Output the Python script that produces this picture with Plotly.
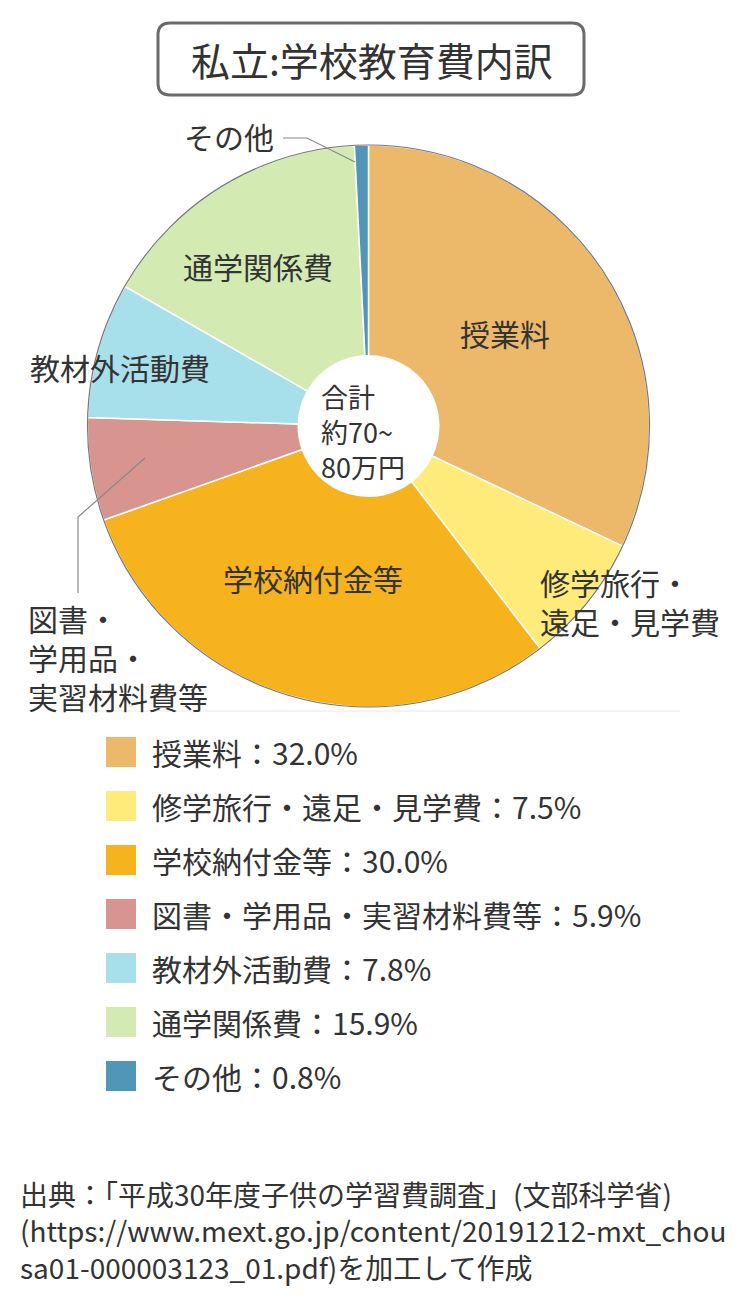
import plotly.graph_objects as go

# ---- data ----
categories = ["授業料", "修学旅行・遠足・見学費", "学校納付金等", "図書・学用品・実習材料費等",
              "教材外活動費", "通学関係費", "その他"]
shares = [32.0, 7.5, 30.0, 5.9, 7.8, 15.9, 0.8]
colors = ["#ECB86A", "#FFEB7A", "#F7B31E", "#D8958F", "#A7DFEA", "#D3EBB3", "#5196B7"]
title_text = "私立:学校教育費内訳"
center_lines = ["合計", "約70~", "80万円"]
source_lines = ["出典：「平成30年度子供の学習費調査」(文部科学省)",
                "(https://www.mext.go.jp/content/20191212-mxt_chou",
                "sa01-000003123_01.pdf)を加工して作成"]

# page has an 8px body margin; figure sized to fit inside the window
OFF = 8
FW, FH = 750 - 2 * OFF, 1300 - 2 * OFF
FONT = "Noto Sans CJK JP"
TXT = "#333333"
FS = 30


def px(x):
    return (x - OFF) / FW


def py(y):
    return 1 - (y - OFF) / FH


# pie geometry (screen pixels)
CX, CY, R = 368.5, 426, 281

fig = go.Figure()
fig.add_trace(go.Pie(
    labels=categories, values=shares, sort=False, direction="clockwise", rotation=0,
    hole=0.25, textinfo="none", hoverinfo="label+percent",
    marker=dict(colors=colors, line=dict(color="white", width=1.5)),
    domain=dict(x=[px(CX - R), px(CX + R)], y=[py(CY + R), py(CY - R)]),
    showlegend=False,
))

shapes = []
annotations = []

# outer gray rim of the pie
shapes.append(dict(type="circle", xref="paper", yref="paper",
                   x0=px(CX - R), x1=px(CX + R), y0=py(CY + R), y1=py(CY - R),
                   line=dict(color="#777777", width=1.2), fillcolor="rgba(0,0,0,0)"))

# title box (rounded rectangle)
x0, x1, y0, y1, r = 158, 584, 23, 95, 12
path = (f"M {px(x0 + r)},{py(y0)} L {px(x1 - r)},{py(y0)} "
        f"Q {px(x1)},{py(y0)} {px(x1)},{py(y0 + r)} L {px(x1)},{py(y1 - r)} "
        f"Q {px(x1)},{py(y1)} {px(x1 - r)},{py(y1)} L {px(x0 + r)},{py(y1)} "
        f"Q {px(x0)},{py(y1)} {px(x0)},{py(y1 - r)} L {px(x0)},{py(y0 + r)} "
        f"Q {px(x0)},{py(y0)} {px(x0 + r)},{py(y0)} Z")
shapes.append(dict(type="path", xref="paper", yref="paper", path=path,
                   line=dict(color="#6b6b6b", width=3), fillcolor="white"))
annotations.append(dict(text=title_text, x=px(372), y=py(59), xref="paper", yref="paper",
                        showarrow=False, font=dict(family=FONT, size=39, color=TXT),
                        xanchor="center", yanchor="middle"))


def lab(text, x, y, xa="center", size=FS):
    annotations.append(dict(text=text, x=px(x), y=py(y), xref="paper", yref="paper",
                            showarrow=False, xanchor=xa, yanchor="middle",
                            align="left" if xa == "left" else "center",
                            font=dict(family=FONT, size=size, color=TXT)))


# center text
lab("<br>".join(center_lines), 319, 431, xa="left", size=27)

# slice labels
lab(categories[0], 505, 333)
lab("修学旅行・<br>遠足・見学費", 538, 601, xa="left")
lab(categories[2], 313, 578)
lab("図書・<br>学用品・<br>実習材料費等", 26, 657, xa="left")
lab(categories[4], 120, 367)
lab(categories[5], 258, 266)
lab(categories[6], 229, 136)


# leader lines
def leader(pts):
    d = "M " + " L ".join(f"{px(a)},{py(b)}" for a, b in pts)
    shapes.append(dict(type="path", xref="paper", yref="paper", path=d,
                       line=dict(color="#888888", width=1.2)))


leader([(283, 138), (307, 138), (355, 162)])
leader([(145, 458), (78, 517), (78, 593)])

# faint divider
shapes.append(dict(type="line", xref="paper", yref="paper", x0=px(70), x1=px(680),
                   y0=py(711), y1=py(711), line=dict(color="#f0f0f0", width=1.5)))

# legend
for i, (c, v, col) in enumerate(zip(categories, shares, colors)):
    yc = 752 + 54 * i
    shapes.append(dict(type="rect", xref="paper", yref="paper",
                       x0=px(106), x1=px(136), y0=py(yc + 15), y1=py(yc - 15),
                       fillcolor=col, line=dict(width=0)))
    lab(f"{c}：{v:.1f}%", 150, yc, xa="left")

# source
lab("<br>".join(source_lines), 18, 1230, xa="left", size=28)

fig.update_layout(width=FW, height=FH, autosize=False,
                  margin=dict(l=0, r=0, t=0, b=0),
                  paper_bgcolor="white", plot_bgcolor="white",
                  shapes=shapes, annotations=annotations,
                  font=dict(family=FONT, color=TXT))
fig.write_html("out.html")
